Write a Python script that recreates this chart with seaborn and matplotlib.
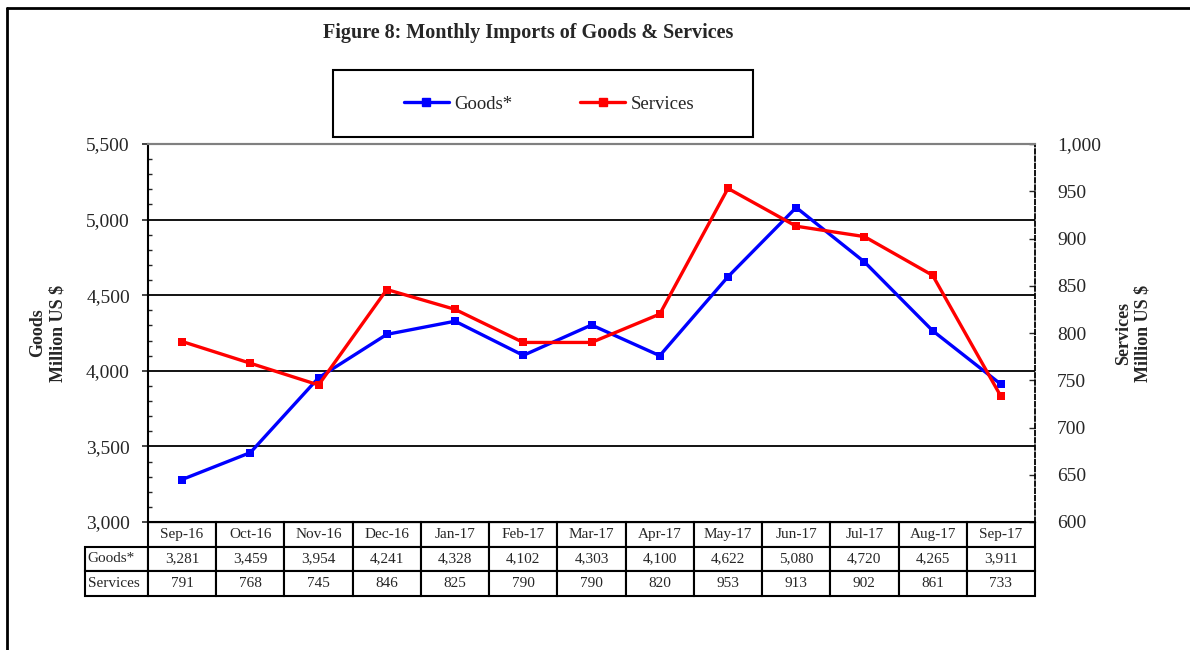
import matplotlib
matplotlib.use("Agg")
import matplotlib.pyplot as plt
import matplotlib.ticker as ticker
from matplotlib.lines import Line2D
from matplotlib.patches import Rectangle
import seaborn as sns

months = ["Sep-16", "Oct-16", "Nov-16", "Dec-16", "Jan-17", "Feb-17", "Mar-17",
          "Apr-17", "May-17", "Jun-17", "Jul-17", "Aug-17", "Sep-17"]
goods = [3281, 3459, 3954, 4241, 4328, 4102, 4303, 4100, 4622, 5080, 4720, 4265, 3911]
services = [791, 768, 745, 846, 825, 790, 790, 820, 953, 913, 902, 861, 733]
goods_ticks = [3000, 3500, 4000, 4500, 5000, 5500]
services_ticks = [600, 650, 700, 750, 800, 850, 900, 950, 1000]

sns.set_style("white")
plt.rcParams["font.family"] = ["Liberation Serif", "DejaVu Serif"]

W, H = 1190, 650
fig = plt.figure(figsize=(W / 100, H / 100), dpi=100)
ax = fig.add_axes([148 / W, 1 - 522 / H, 887 / W, 378 / H])
ax2 = ax.twinx()

x = list(range(len(months)))
sns.lineplot(x=x, y=goods, ax=ax, color="#0000FF", linewidth=2.4, marker="s",
             markersize=6, markeredgecolor="#0000FF", markeredgewidth=0, label="Goods*", legend=False)
sns.lineplot(x=x, y=services, ax=ax2, color="#FF0000", linewidth=2.4, marker="s",
             markersize=6, markeredgecolor="#FF0000", markeredgewidth=0, label="Services", legend=False)

ax.set_xlim(-0.5, len(months) - 0.5)
ax.set_ylim(goods_ticks[0], goods_ticks[-1])
ax2.set_ylim(services_ticks[0], services_ticks[-1])
ax.set_xticks([])
ax.set_yticks(goods_ticks)
ax2.set_yticks(services_ticks)
ax.yaxis.set_minor_locator(ticker.MultipleLocator(100))
fmt = ticker.FuncFormatter(lambda v, pos: f"{int(v):,}")
ax.yaxis.set_major_formatter(fmt)
ax2.yaxis.set_major_formatter(fmt)

ax.tick_params(axis="y", which="major", direction="out", length=4, width=1.2, pad=9, labelsize=14, left=True)
ax.tick_params(axis="y", which="minor", direction="in", length=3, width=1, left=True)
ax2.tick_params(axis="y", which="major", direction="in", length=4, width=1, pad=16, labelsize=14, right=True)

ax.grid(axis="y", color="black", linewidth=1.3)
gl = ax.yaxis.get_gridlines()
gl[0].set_visible(False)
gl[-1].set_visible(False)

for a in (ax, ax2):
    a.spines["top"].set_color("#808080")
    a.spines["top"].set_linewidth(1.5)
    a.spines["bottom"].set_color("black")
    a.spines["left"].set_visible(a is ax)
    a.spines["right"].set_visible(a is ax2)
ax.spines["left"].set_color("black")
ax.spines["left"].set_linewidth(1.5)
ax2.spines["right"].set_color("black")
ax2.spines["right"].set_linewidth(1.3)
ax2.spines["right"].set_linestyle((0, (2.5, 1.5)))

ax.set_ylabel("Goods\nMillion US $", fontsize=13, fontweight="bold", labelpad=14, linespacing=1.3)
ax2.set_ylabel("Services\nMillion US $", fontsize=13, fontweight="bold", labelpad=10, linespacing=1.15)

# data table below the plot
cell_text = [["Goods*"] + [f"{v:,}" for v in goods],
             ["Services"] + [f"{v:,}" for v in services]]
col_labels = [""] + months
widths = [63] + [887 / len(months)] * len(months)
tot = sum(widths)
tbl = ax.table(cellText=cell_text, colLabels=col_labels, colWidths=[w / tot for w in widths],
               cellLoc="center", bbox=[-63 / 887, -74 / 378, tot / 887, 74 / 378])
tbl.auto_set_font_size(False)
tbl.set_fontsize(11)
for (r, c), cell in tbl.get_celld().items():
    cell.set_linewidth(1.5)
    cell.set_edgecolor("black")
    if r == 0 and c == 0:
        cell.set_linewidth(0)
    if c == 0 and r > 0:
        cell._loc = "left"
        cell.PAD = 0.04
        cell.get_text().set_ha("left")

fig.suptitle("Figure 8: Monthly Imports of Goods & Services", x=528 / W, y=1 - 33 / H,
             fontsize=14.5, fontweight="bold", va="center")

# legend with its own box
handles = [Line2D([], [], color="#0000FF", linewidth=2.4, marker="s", markersize=6),
           Line2D([], [], color="#FF0000", linewidth=2.4, marker="s", markersize=6)]
fig.legend(handles, ["Goods*", "Services"], loc="center", bbox_to_anchor=(549 / W, 1 - 104 / H),
           ncol=2, frameon=False, fontsize=13.5, handlelength=2.4, handletextpad=0.3,
           columnspacing=3.6)
fig.add_artist(Rectangle((333 / W, 1 - 137 / H), 420 / W, 67 / H, transform=fig.transFigure,
                         fill=False, edgecolor="black", linewidth=1.5))

# outer figure frame (cut by the image edges on the right and bottom)
fig.add_artist(Line2D([7 / W, 7 / W], [0, 1 - 8 / H], transform=fig.transFigure, color="black", linewidth=2))
fig.add_artist(Line2D([7 / W, 1], [1 - 8 / H, 1 - 8 / H], transform=fig.transFigure, color="black", linewidth=2))

fig.savefig("out.png", dpi=100)
